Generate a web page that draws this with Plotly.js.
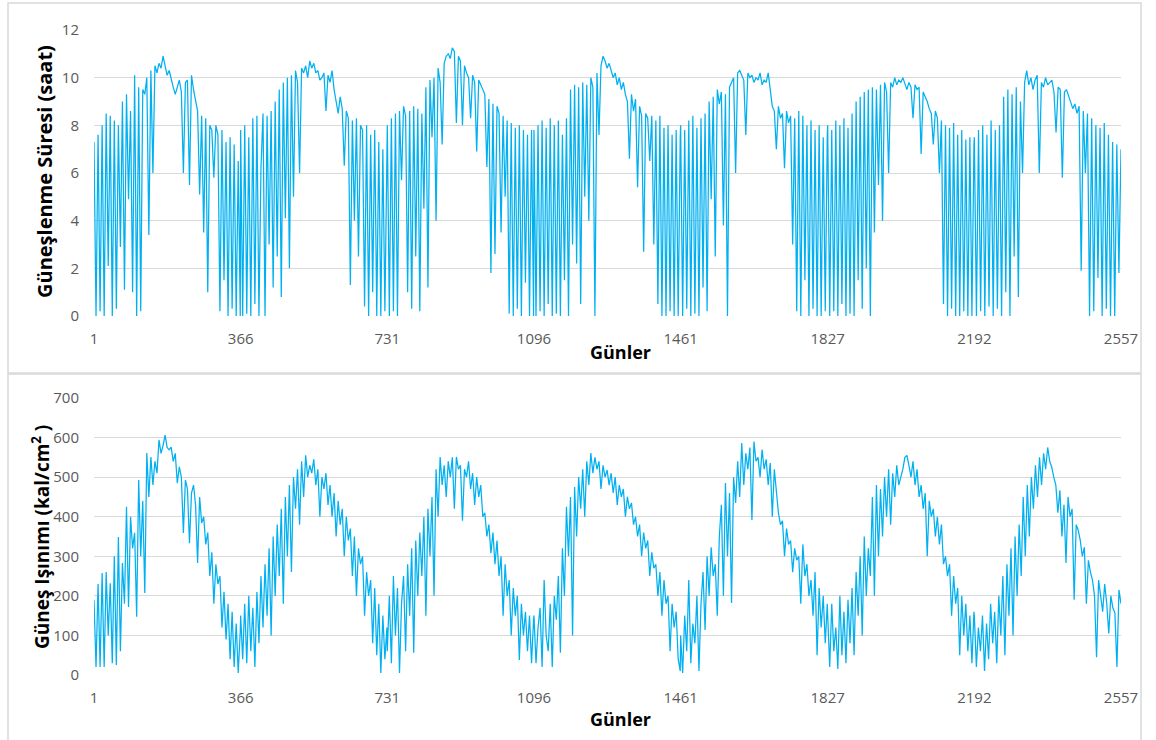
<!DOCTYPE html>
<html>
<head>
<meta charset="utf-8">
<script src="https://cdn.plot.ly/plotly-3.0.1.min.js"></script>
<style>html,body{margin:0;padding:0;background:#fff;}#chart{width:1156px;height:740px;}</style>
</head>
<body>
<div id="chart"></div>
<script>
// Tick labels / year starts (day numbers)
const tickLabels = [1, 366, 731, 1096, 1461, 1827, 2192, 2557];

// Güneşlenme süresi (saat) — readings per year (≈ every 5 days)
const sunY1 = [7.3,0,7.6,0.2,8.0,0,8.5,2.1,8.4,0,8.2,0.3,8.0,2.9,9.0,1.1,9.3,4.9,8.6,1.0,10.1,0,9.6,0.2,9.5,9.3,10.0,3.4,10.3,6.0,10.5,10.2,10.6,10.4,10.9,10.5,10.1,10.3,9.9,9.6,9.3,9.6,9.9,9.4,6.0,9.8,9.9,5.5,10.1,9.5,9.0,8.6,5.1,8.4,3.5,8.3,1.0,8.0,7.8,5.8,8.0,7.6,0.2,7.8,1.5,7.3,0,7.5,0.3,7.2,0,6.5,0];
const sunY2 = [7.8,0,8.0,0.1,7.5,0,8.3,0.5,8.4,0,6.2,8.5,0,8.4,3.0,8.6,1.2,9.0,2.5,9.5,0.8,9.8,4.1,10.0,2.0,10.1,5.0,10.3,9.8,6.0,10.4,10.2,10.5,10.0,10.7,10.4,10.6,10.2,10.3,9.9,10.0,10.2,8.6,10.1,9.8,10.3,9.5,9.0,8.5,9.2,8.7,6.3,8.6,8.3,1.3,8.2,4.0,8.3,2.5,8.0,7.8,0.4,8.0,0,7.6,1.0,7.8,0,7.3,0,7.0,0.2,7.3];
const sunY3 = [8.0,0,8.3,0.2,8.5,0,8.6,5.7,8.8,8.4,1.0,8.6,0.3,8.8,2.5,8.7,0.2,8.5,4.5,9.6,1.2,9.9,7.5,10.0,4.0,10.4,9.8,7.2,10.6,10.9,11.0,10.8,11.25,11.1,8.1,10.9,10.7,8.0,10.5,10.2,10.0,8.3,10.1,9.8,6.9,9.9,9.7,9.5,9.3,6.25,9.1,1.8,8.9,2.6,8.8,8.5,3.5,8.4,5.0,8.2,0.1,8.1,0,7.9,0.3,8.0,0,7.8,1.4,7.6,0,7.8,0];
const sunY4 = [7.8,0,8.0,0.2,8.2,0,7.9,0.5,8.3,0,8.0,0.1,8.2,0,7.6,1.5,8.3,0,9.5,3.0,9.7,2.2,9.6,0.5,9.8,5.0,9.7,4.0,10.0,9.6,0,10.2,7.6,10.5,10.9,10.7,10.4,10.6,10.3,10.0,10.2,9.7,10.0,9.5,9.8,9.3,9.0,6.6,9.3,8.6,9.1,5.4,8.8,8.4,2.7,8.5,8.3,6.5,8.4,3.0,8.2,0.5,8.4,0,7.9,0,8.0,0.2,7.6,0,7.8,0,7.5];
const sunY5 = [8.0,0,7.8,0.3,8.2,0,8.4,0.1,7.9,0,8.3,1.2,8.5,0.2,9.0,4.9,9.2,2.5,9.5,8.9,9.4,3.8,9.3,0,9.6,9.8,10.0,6.0,10.2,10.3,10.1,9.9,7.6,10.2,10.0,10.1,9.8,10.0,9.9,10.2,9.7,9.9,9.8,10.2,9.5,8.8,8.6,7.0,8.8,8.3,8.5,6.2,8.6,8.1,8.4,3.0,8.3,0.2,8.6,0,8.4,1.5,8.0,0,8.2,0.3,7.8,0,8.0,0,7.5,0.2,7.6];
const sunY6 = [8.0,0,7.8,0.2,8.2,0,8.0,0.5,8.3,0,7.9,0.1,8.5,0,9.0,1.5,9.2,0.3,9.4,2.0,9.5,0,9.6,3.5,9.5,5.5,9.7,4.0,9.8,9.4,6.0,9.8,9.6,10.0,9.7,9.9,9.8,10.0,9.7,9.5,9.8,9.6,8.3,9.7,9.5,9.6,6.8,9.4,9.2,9.0,8.7,8.5,7.2,8.6,8.3,6.0,8.2,0.5,8.0,0,7.9,0.3,8.1,0,7.6,0,7.8,0.2,7.4,0,7.5,0,7.2];
const sunY7 = [7.5,0,7.8,0.2,8.0,0,7.6,0.4,8.2,0,7.8,0.3,8.0,0,9.2,1.0,9.5,0,9.3,2.5,9.6,0.8,9.0,6.0,9.8,10.3,9.7,10.0,9.5,9.9,10.1,6.0,9.8,9.6,10.0,9.7,9.8,9.9,9.4,7.7,9.6,9.5,5.8,9.4,9.5,9.2,9.0,8.7,8.9,8.5,8.8,1.9,8.6,6.0,8.5,0,8.3,0.2,8.0,1.6,7.9,0,8.1,0.3,7.6,0,7.3,0,7.2,1.8,7.0];

// Güneş ışınımı (kal/cm²) — readings per year (≈ every 5 days)
const radY1 = [190,20,230,20,258,20,260,100,232,30,300,25,349,60,283,180,425,172,400,320,359,147,493,300,440,207,561,450,551,480,540,510,594,560,580,606,575,569,576,540,560,485,526,500,359,493,470,333,460,480,430,283,450,384,400,330,360,250,310,180,280,230,250,120,210,90,180,40,160,20,130,5,110];
const radY2 = [150,40,180,30,200,60,170,20,210,80,250,120,280,150,320,100,350,200,380,250,420,180,450,300,480,260,500,420,520,380,540,450,555,500,530,510,545,480,520,400,500,470,510,430,480,400,460,350,440,380,420,300,400,340,370,250,350,200,320,280,300,150,260,200,240,80,220,50,180,5,150,40,120];
const radY3 = [60,200,30,250,100,220,5,180,250,60,280,150,320,56,340,200,360,250,400,150,420,300,450,200,520,400,551,480,530,450,540,500,550,420,551,520,530,390,520,500,540,470,510,430,500,450,480,400,410,350,380,308,360,280,340,250,300,150,280,200,240,100,220,150,200,38,180,100,160,60,150,30,140];
const radY4 = [150,30,120,170,20,240,100,60,180,20,200,140,250,56,320,200,425,300,450,100,475,350,500,420,520,400,540,480,561,510,550,520,540,470,530,500,518,480,510,460,500,430,480,450,470,400,450,420,435,380,400,350,380,300,360,320,340,250,310,270,280,200,260,150,240,180,200,60,180,120,160,40,10];
const radY5 = [100,5,150,60,240,30,130,80,200,10,180,260,114,300,200,323,250,280,150,350,430,200,485,300,460,182,500,435,540,450,586,480,560,520,575,392,590,540,550,500,570,520,545,480,536,400,520,460,410,380,390,300,370,330,340,260,320,290,300,180,330,250,280,200,240,150,260,50,220,120,200,80,180];
const radY6 = [150,20,180,60,120,15,200,50,160,30,190,80,220,50,260,150,300,100,350,200,320,250,450,200,480,300,470,350,500,400,520,380,510,450,530,480,500,520,550,555,530,500,540,480,520,450,480,420,460,300,440,400,420,350,400,330,380,280,300,250,280,150,250,180,220,50,200,100,180,60,150,30,160];
const radY7 = [150,20,120,60,150,10,130,40,180,80,160,30,200,100,250,50,280,150,320,100,350,200,380,250,450,300,480,350,500,420,530,450,550,480,560,520,575,540,525,500,480,410,467,350,430,283,450,400,420,190,380,366,340,300,323,180,290,260,240,200,45,240,200,160,230,180,105,200,170,157,20,215,180];

const W = 1156, H = 740;
const px = v => v / W;
const py = v => 1 - v / H;

function buildSeries(years) {
  const xs = [], ys = [];
  years.forEach((vals, y) => {
    const s = tickLabels[y];
    const e = (y < years.length - 1) ? tickLabels[y + 1] - 1 : tickLabels[tickLabels.length - 1];
    const n = vals.length;
    vals.forEach((v, k) => { xs.push(s + k * (e - s) / (n - 1)); ys.push(v); });
  });
  return {xs, ys};
}

const sun = buildSeries([sunY1, sunY2, sunY3, sunY4, sunY5, sunY6, sunY7]);
const rad = buildSeries([radY1, radY2, radY3, radY4, radY5, radY6, radY7]);

const lineColor = '#00b0f0';
const traces = [
  {x: sun.xs, y: sun.ys, type: 'scatter', mode: 'lines', line: {color: lineColor, width: 1.25}, xaxis: 'x', yaxis: 'y', hoverinfo: 'skip'},
  {x: rad.xs, y: rad.ys, type: 'scatter', mode: 'lines', line: {color: lineColor, width: 1.25}, xaxis: 'x2', yaxis: 'y2', hoverinfo: 'skip'}
];

const tickFont = {family: 'Open Sans, sans-serif', size: 15, color: '#595959'};
const xCommon = {
  domain: [px(94), px(1121)], range: [1, 2557], tickmode: 'array',
  tickvals: tickLabels, ticktext: tickLabels.map(String),
  showgrid: false, zeroline: false, showline: false, ticks: '',
  tickfont: tickFont, ticklabelstandoff: 12, automargin: false, fixedrange: true
};
const yCommon = {
  showgrid: true, gridcolor: '#d9d9d9', gridwidth: 1, zeroline: false, showline: false,
  ticks: '', tickfont: tickFont, ticklabelstandoff: 14, automargin: false, fixedrange: true
};

const xTitleFont = {family: 'Open Sans, sans-serif', size: 18, color: '#000000', weight: 'bold'};
const yTitleFont1 = {family: 'Open Sans, sans-serif', size: 20, color: '#000000', weight: 'bold'};
const yTitleFont2 = {family: 'Open Sans, sans-serif', size: 19, color: '#000000', weight: 'bold'};

const layout = {
  width: W, height: H,
  margin: {l: 0, r: 0, t: 0, b: 0},
  paper_bgcolor: '#ffffff', plot_bgcolor: 'rgba(0,0,0,0)',
  showlegend: false,
  xaxis: Object.assign({}, xCommon, {anchor: 'y'}),
  yaxis: Object.assign({}, yCommon, {domain: [py(316), py(30)], range: [0, 12], dtick: 2, anchor: 'x'}),
  xaxis2: Object.assign({}, xCommon, {anchor: 'y2'}),
  yaxis2: Object.assign({}, yCommon, {domain: [py(675), py(398)], range: [0, 700], dtick: 100, anchor: 'x2'}),
  shapes: [
    {type: 'rect', xref: 'paper', yref: 'paper', x0: px(8), x1: px(1141), y0: py(373), y1: py(3), line: {color: '#d9d9d9', width: 1.5}, layer: 'below'},
    {type: 'rect', xref: 'paper', yref: 'paper', x0: px(8), x1: px(1141), y0: py(760), y1: py(374), line: {color: '#d9d9d9', width: 1.5}, layer: 'below'}
  ],
  annotations: [
    {text: 'Günler', xref: 'paper', yref: 'paper', x: px(620), y: py(352), showarrow: false, font: xTitleFont, xanchor: 'center', yanchor: 'middle'},
    {text: 'Günler', xref: 'paper', yref: 'paper', x: px(620), y: py(719), showarrow: false, font: xTitleFont, xanchor: 'center', yanchor: 'middle'},
    {text: 'Güneşlenme Süresi (saat)', xref: 'paper', yref: 'paper', x: px(44), y: py(172), textangle: -90, showarrow: false, font: yTitleFont1, xanchor: 'center', yanchor: 'middle'},
    {text: 'Güneş Işınımı (kal/cm<sup>2</sup> )', xref: 'paper', yref: 'paper', x: px(41), y: py(537), textangle: -90, showarrow: false, font: yTitleFont2, xanchor: 'center', yanchor: 'middle'}
  ]
};

Plotly.newPlot('chart', traces, layout, {staticPlot: true, displayModeBar: false});
</script>
</body>
</html>
